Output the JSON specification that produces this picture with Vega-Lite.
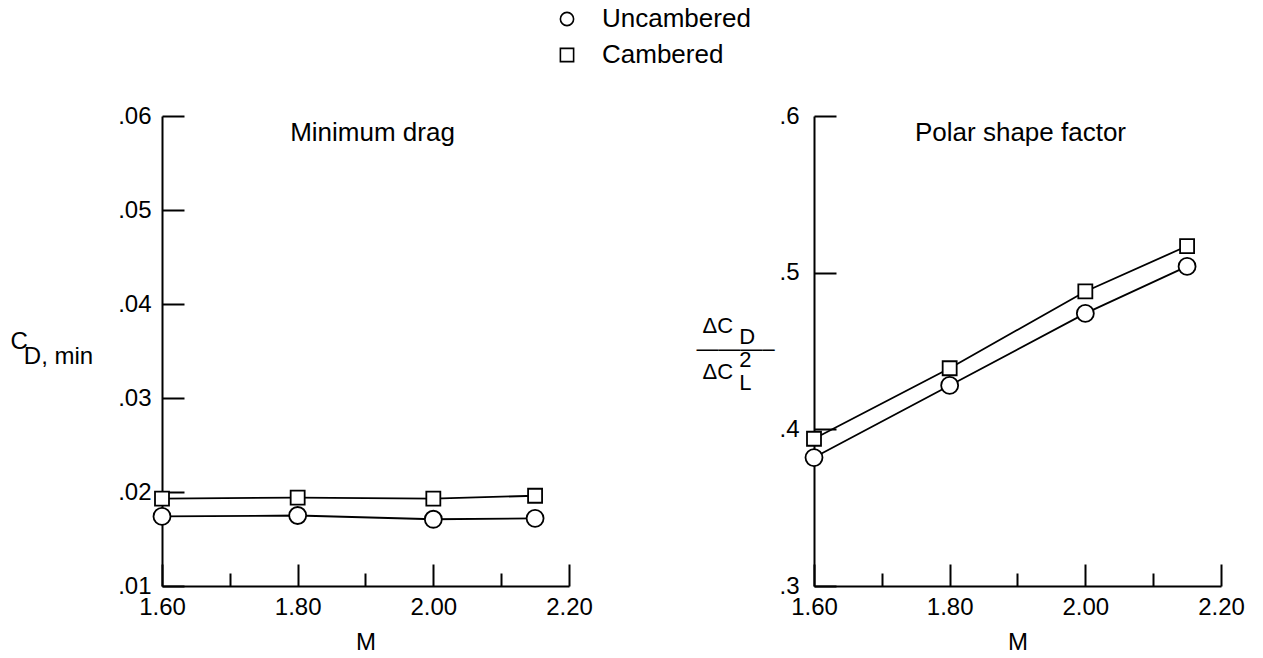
{
  "$schema": "https://vega.github.io/schema/vega-lite/v6.json",
  "background": "white",
  "padding": {"left": 10, "top": 6, "right": 5, "bottom": 5},
  "autosize": {"type": "pad"},
  "config": {
    "font": "Liberation Sans",
    "view": {"stroke": null},
    "axis": {
      "domainColor": "black", "domainWidth": 2,
      "tickColor": "black", "tickWidth": 2,
      "labelColor": "black", "labelFontSize": 24, "labelFont": "Liberation Sans",
      "titleColor": "black", "titleFontSize": 24, "titleFontWeight": "normal", "titleFont": "Liberation Sans",
      "grid": false
    },
    "legend": {
      "title": null, "orient": "none", "legendX": 392, "legendY": -110,
      "direction": "vertical", "labelFontSize": 26, "labelColor": "black", "labelFont": "Liberation Sans",
      "symbolSize": 175, "symbolStrokeWidth": 1.6, "symbolOpacity": 1,
      "labelOffset": 22, "rowPadding": 10, "padding": 0
    },
    "title": {"fontSize": 26, "fontWeight": "normal", "color": "black", "font": "Liberation Sans", "anchor": "middle", "offset": -42}
  },
  "datasets": {
    "d": [
      {"panel": "min", "series": "Uncambered", "M": 1.6, "v": 0.0174},
      {"panel": "min", "series": "Uncambered", "M": 1.8, "v": 0.0175},
      {"panel": "min", "series": "Uncambered", "M": 2.0, "v": 0.0171},
      {"panel": "min", "series": "Uncambered", "M": 2.15, "v": 0.0172},
      {"panel": "min", "series": "Cambered", "M": 1.6, "v": 0.0193},
      {"panel": "min", "series": "Cambered", "M": 1.8, "v": 0.0194},
      {"panel": "min", "series": "Cambered", "M": 2.0, "v": 0.0193},
      {"panel": "min", "series": "Cambered", "M": 2.15, "v": 0.0196},
      {"panel": "polar", "series": "Uncambered", "M": 1.6, "v": 0.382},
      {"panel": "polar", "series": "Uncambered", "M": 1.8, "v": 0.428},
      {"panel": "polar", "series": "Uncambered", "M": 2.0, "v": 0.474},
      {"panel": "polar", "series": "Uncambered", "M": 2.15, "v": 0.504},
      {"panel": "polar", "series": "Cambered", "M": 1.6, "v": 0.394},
      {"panel": "polar", "series": "Cambered", "M": 1.8, "v": 0.439},
      {"panel": "polar", "series": "Cambered", "M": 2.0, "v": 0.488},
      {"panel": "polar", "series": "Cambered", "M": 2.15, "v": 0.517}
    ]
  },
  "spacing": 245,
  "bounds": "flush",
  "resolve": {"scale": {"shape": "shared"}},
  "hconcat": [
    {
      "width": 407, "height": 470,
      "title": {"text": "Minimum drag", "dx": 7},
      "data": {"name": "d"},
      "transform": [{"filter": "datum.panel === 'min'"}],
      "encoding": {
        "x": {
          "field": "M", "type": "quantitative",
          "scale": {"domain": [1.6, 2.2], "nice": false, "zero": false},
          "axis": {
            "title": "M", "titlePadding": 11,
            "values": [1.6, 1.7, 1.8, 1.9, 2.0, 2.1, 2.2],
            "labelExpr": "round(datum.value*10) % 2 === 0 ? format(datum.value, '.2f') : ''",
            "tickSize": {"condition": {"test": "round(datum.value*10) % 2 === 0", "value": -22}, "value": -13},
            "labelPadding": 31, "labelFlush": false
          }
        },
        "y": {
          "field": "v", "type": "quantitative",
          "scale": {"domain": [0.01, 0.06], "nice": false, "zero": false},
          "axis": {
            "values": [0.01, 0.02, 0.03, 0.04, 0.05, 0.06],
            "labelExpr": "substring(format(datum.value, '.2f'), 1)",
            "tickSize": -22, "labelPadding": 33, "labelFlush": false,
            "title": ["C", "\u200b\u00a0\u00a0D, min"],
            "titleAngle": 0, "titleAlign": "left", "titleBaseline": "middle",
            "titleX": -152, "titleY": 225, "titleLineHeight": 15
          }
        }
      },
      "layer": [
        {"mark": {"type": "line", "color": "black", "strokeWidth": 1.8}, "encoding": {"detail": {"field": "series"}}},
        {
          "transform": [{"filter": "datum.series === 'Uncambered'"}],
          "mark": {"type": "point", "filled": true, "fill": "white", "stroke": "black", "strokeWidth": 1.8, "opacity": 1, "size": 289},
          "encoding": {
            "shape": {
              "field": "series", "type": "nominal",
              "scale": {"domain": ["Uncambered", "Cambered"], "range": ["circle", "square"]},
              "legend": {"encode": {"symbols": {"fill": {"value": "white"}, "stroke": {"value": "black"}, "strokeWidth": {"value": 1.6}, "size": {"value": 175}, "opacity": {"value": 1}}}}
            }
          }
        },
        {
          "transform": [{"filter": "datum.series === 'Cambered'"}],
          "mark": {"type": "point", "filled": true, "fill": "white", "stroke": "black", "strokeWidth": 1.8, "opacity": 1, "size": 196},
          "encoding": {
            "shape": {
              "field": "series", "type": "nominal",
              "scale": {"domain": ["Uncambered", "Cambered"], "range": ["circle", "square"]},
              "legend": {"encode": {"symbols": {"fill": {"value": "white"}, "stroke": {"value": "black"}, "strokeWidth": {"value": 1.6}, "size": {"value": 175}, "opacity": {"value": 1}}}}
            }
          }
        }
      ]
    },
    {
      "width": 407, "height": 470,
      "title": {"text": "Polar shape factor", "dx": 3},
      "data": {"name": "d"},
      "transform": [{"filter": "datum.panel === 'polar'"}],
      "encoding": {
        "x": {
          "field": "M", "type": "quantitative",
          "scale": {"domain": [1.6, 2.2], "nice": false, "zero": false},
          "axis": {
            "title": "M", "titlePadding": 11,
            "values": [1.6, 1.7, 1.8, 1.9, 2.0, 2.1, 2.2],
            "labelExpr": "round(datum.value*10) % 2 === 0 ? format(datum.value, '.2f') : ''",
            "tickSize": {"condition": {"test": "round(datum.value*10) % 2 === 0", "value": -22}, "value": -13},
            "labelPadding": 31, "labelFlush": false
          }
        },
        "y": {
          "field": "v", "type": "quantitative",
          "scale": {"domain": [0.3, 0.6], "nice": false, "zero": false},
          "axis": {
            "values": [0.3, 0.4, 0.5, 0.6],
            "labelExpr": "substring(format(datum.value, '.1f'), 1)",
            "tickSize": -22, "labelPadding": 37, "labelFlush": false,
            "title": ["\u200b\u00a0\u0394C", "\u200b\u00a0\u00a0\u00a0\u00a0\u00a0\u00a0\u00a0D", "\u2014\u2014\u2014\u2013", "\u200b\u00a0\u00a0\u00a0\u00a0\u00a0\u00a0\u00a02", "\u200b\u00a0\u0394C", "\u200b\u00a0\u00a0\u00a0\u00a0\u00a0\u00a0\u00a0L"],
            "titleFontSize": 22,
            "titleAngle": 0, "titleAlign": "left", "titleBaseline": "middle",
            "titleX": -118, "titleY": 209, "titleLineHeight": 11.5
          }
        }
      },
      "layer": [
        {"mark": {"type": "line", "color": "black", "strokeWidth": 1.8}, "encoding": {"detail": {"field": "series"}}},
        {
          "transform": [{"filter": "datum.series === 'Uncambered'"}],
          "mark": {"type": "point", "filled": true, "fill": "white", "stroke": "black", "strokeWidth": 1.8, "opacity": 1, "size": 289},
          "encoding": {
            "shape": {
              "field": "series", "type": "nominal",
              "scale": {"domain": ["Uncambered", "Cambered"], "range": ["circle", "square"]},
              "legend": {"encode": {"symbols": {"fill": {"value": "white"}, "stroke": {"value": "black"}, "strokeWidth": {"value": 1.6}, "size": {"value": 175}, "opacity": {"value": 1}}}}
            }
          }
        },
        {
          "transform": [{"filter": "datum.series === 'Cambered'"}],
          "mark": {"type": "point", "filled": true, "fill": "white", "stroke": "black", "strokeWidth": 1.8, "opacity": 1, "size": 196},
          "encoding": {
            "shape": {
              "field": "series", "type": "nominal",
              "scale": {"domain": ["Uncambered", "Cambered"], "range": ["circle", "square"]},
              "legend": {"encode": {"symbols": {"fill": {"value": "white"}, "stroke": {"value": "black"}, "strokeWidth": {"value": 1.6}, "size": {"value": 175}, "opacity": {"value": 1}}}}
            }
          }
        }
      ]
    }
  ]
}
